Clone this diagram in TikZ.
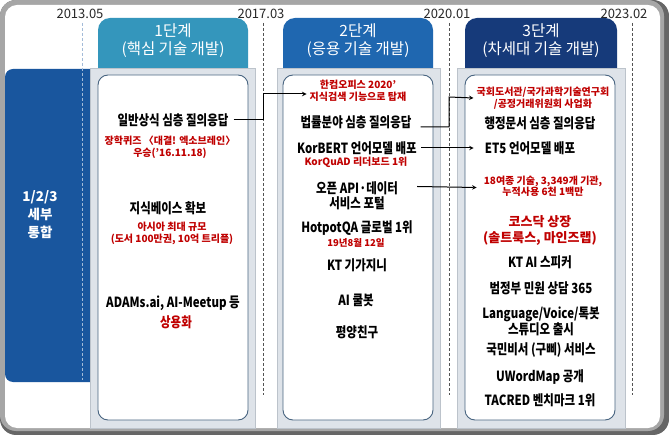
\documentclass[tikz,border=0pt]{standalone}
\usepackage{fontspec}
\setmainfont{Noto Sans CJK KR}
\newfontfamily\korcond[FakeStretch=0.82]{Noto Sans CJK KR}
\usepackage{tikz}
\usetikzlibrary{arrows}
\usepackage{xcolor}
\definecolor{hdrA}{RGB}{52,150,188}
\definecolor{hdrB}{RGB}{31,103,176}
\definecolor{hdrC}{RGB}{22,58,122}
\definecolor{panel}{RGB}{25,86,158}
\definecolor{boxgray}{RGB}{222,227,233}
\definecolor{boxline}{RGB}{188,195,203}
\definecolor{inline}{RGB}{72,100,128}
\definecolor{redk}{RGB}{192,0,0}
\definecolor{datek}{RGB}{40,40,40}
\tikzset{
  item/.style={font=\korcond\bfseries\fontsize{14}{15}\selectfont, inner sep=1pt, align=center},
  note/.style={text=redk, font=\bfseries\fontsize{10}{11.5}\selectfont, inner sep=1pt, align=center},
  hdr/.style={text=white, font=\fontsize{15.5}{18}\selectfont, align=center},
  when/.style={text=datek, font=\fontsize{13}{14}\selectfont, inner sep=1pt},
  tick/.style={datek!80, dashed, dash pattern=on 3pt off 2pt, line width=0.8pt},
  colbox/.style={fill=boxgray, draw=boxline, line width=0.6pt},
  colin/.style={fill=white, draw=inline, line width=0.9pt, rounded corners=10pt},
  link/.style={-stealth, line width=1pt}
}

\begin{document}
\begin{tikzpicture}[x=1pt,y=-1pt]
\useasboundingbox (0,0) rectangle (669,435);
% frame
\fill[gray!80!black, rounded corners=16pt] (0,0) rectangle (669,435);
\fill[gray!70, rounded corners=16pt] (0,0) rectangle (664,431);
\fill[white, rounded corners=12pt] (5,5) rectangle (660,428);
% left panel and headers
\fill[panel, rounded corners=8pt] (5,69) rectangle (130,382);
\fill[hdrA, rounded corners=12pt] (98,18) rectangle (248,90);
\fill[hdrB, rounded corners=12pt] (283,18) rectangle (433,90);
\fill[hdrC, rounded corners=12pt] (465,18) rectangle (617,90);
% column boxes
\filldraw[colbox] (90,68) rectangle (255,428);
\filldraw[colbox] (277,68) rectangle (440,428);
\filldraw[colbox] (457,68) rectangle (625,428);
\filldraw[colin] (98,75) rectangle (248,420);
\filldraw[colin] (283,75) rectangle (433,420);
\filldraw[colin] (465,75) rectangle (615,420);
% time line
\node[when] (d1) at (80,14) {2013.05};
\node[when] (d2) at (261,14) {2017.03};
\node[when] (d3) at (447,14) {2020.01};
\node[when] (d4) at (624,14) {2023.02};
\draw[tick, white!60!panel] (82,23) -- (82,380);
\draw[tick] (263,23) -- (263,395);
\draw[tick] (449,23) -- (449,395);
\draw[tick] (632,23) -- (632,395);
\node[hdr] (h1) at (173,41) {1단계\\(핵심 기술 개발)};
\node[hdr] (h2) at (358,41) {2단계\\(응용 기술 개발)};
\node[hdr] (h3) at (541,41) {3단계\\(차세대 기술 개발)};
\node[text=white, font=\bfseries\fontsize{13.5}{18}\selectfont, align=center] (all) at (40,215) {1/2/3\\세부\\통합};
% stage 1
\node[item] (q1) at (173,120) {일반상식 심층 질의응답};
\node[note] (quiz) at (170,147.5) {장학퀴즈 〈대결! 엑소브레인〉\\우승('16.11.18)};
\node[item] (kb) at (168,208) {지식베이스 확보};
\node[note] (asia) at (172,233.5) {아시아 최대 규모\\(도서 100만권, 10억 트리플)};
\node[item] (adams) at (173,303) {ADAMs.ai, AI-Meetup 등};
\node[item, text=redk] (biz1) at (176,322) {상용화};
% stage 2
\node[note] (hancom) at (358,91) {한컴오피스 2020'\\지식검색 기능으로 탑재};
\node[item] (law) at (356,122) {법률분야 심층 질의응답};
\node[item] (kor) at (357,148) {KorBERT 언어모델 배포};
\node[note] (korq) at (356,162) {KorQuAD 리더보드 1위};
\node[item] (api) at (357,195.5) {오픈 API·데이터\\서비스 포털};
\node[item] (hot) at (357,228) {HotpotQA 글로벌 1위};
\node[note, font=\bfseries\fontsize{9.5}{11}\selectfont] (hotd) at (356,243) {19년8월 12일};
\node[item] (kt) at (357,265) {KT 기가지니};
\node[item] (cool) at (356,300) {AI 쿨봇};
\node[item] (pyy) at (357,332) {평양친구};
% stage 3
\node[note] (nal) at (543,98) {국회도서관/국가과학기술연구회\\/공정거래위원회 사업화};
\node[item] (adm) at (540,123) {행정문서 심층 질의응답};
\node[item] (et5) at (530,148) {ET5 언어모델 배포};
\node[note] (use) at (543,186.5) {18여종 기술, 3,349개 기관,\\누적사용 6천 1백만};
\node[note, font=\bfseries\fontsize{13}{16}\selectfont] (kosdaq) at (540,230) {코스닥 상장\\(솔트룩스, 마인즈랩)};
\node[item] (ktai) at (540,262) {KT AI 스피커};
\node[item] (gov) at (541,288) {범정부 민원 상담 365};
\node[item, font=\korcond\bfseries\fontsize{14}{13.5}\selectfont] (studio) at (541,321.5) {Language/Voice/톡봇\\스튜디오 출시};
\node[item] (gubbi) at (541,350) {국민비서 (구삐) 서비스};
\node[item] (uwm) at (540,377) {UWordMap 공개};
\node[item] (tac) at (540,400) {TACRED 벤치마크 1위};
% links
\draw[link] ([xshift=4pt]q1.east) -- ++(30,0) |- ([xshift=-2pt,yshift=-3pt]hancom.west);
\draw[link] ([xshift=8pt,yshift=-5pt]law.east) -| (449,97) -- ([xshift=-2pt]nal.west);
\draw[link] ([xshift=3pt]kor.east) -- ([xshift=-10pt]et5.west);
\draw[link] ([xshift=18pt,yshift=9pt]api.east) -- ([xshift=-6pt,yshift=-1pt]use.west);
\end{tikzpicture}
\end{document}
